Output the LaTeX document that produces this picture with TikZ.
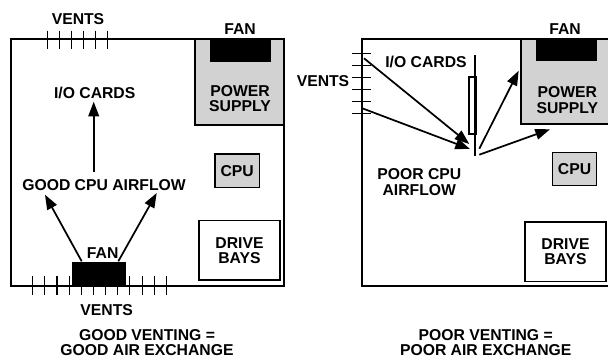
\documentclass[tikz,border=0pt]{standalone}
\usepackage{fontspec}
\usepackage{tikz}
\usetikzlibrary{arrows.meta,positioning,fit,calc}
\setmainfont{Liberation Sans}
\definecolor{PCGray}{HTML}{D2D2D2}
\tikzset{
 lbl/.style={font=\fontsize{11.8}{11.4}\selectfont\bfseries,align=center,inner sep=0pt},
 chassis/.style={draw,line width=1.5pt,fill=none},
 unit/.style={draw,line width=1.3pt,inner sep=0pt,anchor=north west},
 flow/.style={-{Triangle[length=11pt,width=8pt]},line width=1.3pt},
 vent/.style={line width=.8pt},
}
\begin{document}
\begin{tikzpicture}[x=.75pt,y=-.75pt]
\useasboundingbox (0,0) rectangle (608,358);
% good venting
\coordinate (lcTL) at (11,38.7);
\coordinate (lcBR) at (284,285.7);
\fill[PCGray] (195,38.7) rectangle (284,124.7);
\foreach \i in {0,...,5} {
 \draw[vent] ({47.3+12*\i},30.7) -- ({47.3+12*\i},49.3);
}
\foreach \i in {0,...,11} {
 \draw[vent] ({32.7+12.15*\i},276.3) -- ({32.7+12.15*\i},294.7);
}
\draw[chassis] (lcTL) rectangle (lcBR);
\draw[line width=1.3pt] (195,38.7) -- (195,124.7) -- (284,124.7);
\fill (210.3,38.7) rectangle (270.7,62.3);
\fill (72.3,262.3) rectangle (126.3,285.7);
\node[unit,fill=PCGray,minimum width=44.7*.75pt,minimum height=33.7*.75pt] (cpuL) at (214,153) {};
\node[unit,fill=white,minimum width=81.3*.75pt,minimum height=59.6*.75pt] (drvL) at (198,219.7) {};
\node[lbl] (ventsLT) at (78,18.7) {VENTS};
\node[lbl] (fanLT) at (240,28.7) {FAN};
\node[lbl] (psuL) at (240,98.7) {POWER\\SUPPLY};
\node[lbl] at (cpuL.center) {CPU};
\node[lbl] at (drvL.center) {DRIVE\\BAYS};
\node[lbl] (ioL) at (94.7,92.7) {I/O CARDS};
\node[lbl] (goodL) at (104,185.3) {GOOD CPU AIRFLOW};
\node[lbl] (fanLB) at (102.7,252.7) {FAN};
\node[lbl] (ventsLB) at (106.7,309.7) {VENTS};
\node[lbl] (capL) at (147,342.8) {GOOD VENTING =\\GOOD AIR EXCHANGE};
\coordinate (a0) at (93.7,172);
\coordinate (a1) at (93.7,101.7);
\coordinate (b0) at (81.7,261.3);
\coordinate (b1) at (45,194.7);
\coordinate (c0) at (118.3,261.3);
\coordinate (c1) at (156.7,193);
\draw[flow] (a0) -- (a1);
\draw[flow] (b0) -- (b1);
\draw[flow] (c0) -- (c1);
% poor venting
\coordinate (rcTR) at (608,38.7);
\coordinate (rcTL) at (361.7,38.7);
\coordinate (rcBL) at (361.7,285.5);
\coordinate (rcBR) at (608,285.5);
\fill[PCGray] (521,38.7) rectangle (608,124.3);
\foreach \y in {53.3,65.4,77.6,89.7,101.8,113.8} {
 \draw[vent] (352.3,\y) -- (370.7,\y);
}
\draw[chassis] (rcTR) -- (rcTL) -- (rcBL) -- (rcBR);
\draw[line width=1.3pt] (521,38.7) -- (521,124.3) -- (608,124.3);
\fill (536.3,38.7) rectangle (596.7,61);
\node[unit,fill=PCGray,minimum width=44*.75pt,minimum height=33*.75pt] (cpuR) at (551.7,151.7) {};
\node[unit,fill=white,minimum width=81.3*.75pt,minimum height=59.7*.75pt] (drvR) at (524,221) {};
\node[unit,fill=white,minimum width=6.7*.75pt,minimum height=57*.75pt] (card) at (468.3,76) {};
\draw[line width=1.5pt] (475,55) -- (475,155.7);
\node[lbl] (ventsR) at (323,81.3) {VENTS};
\node[lbl] (fanR) at (565,28.7) {FAN};
\node[lbl] (psuR) at (567.3,100) {POWER\\SUPPLY};
\node[lbl] at (cpuR.center) {CPU};
\node[lbl] at (drvR.center) {DRIVE\\BAYS};
\node[lbl] (ioR) at (426,62.3) {I/O CARDS};
\node[lbl] (poorR) at (419.3,182) {POOR CPU\\AIRFLOW};
\node[lbl] (capR) at (485.7,342.8) {POOR VENTING =\\POOR AIR EXCHANGE};
\coordinate (d0) at (364,58.3);
\coordinate (d1) at (469.3,144);
\coordinate (e0) at (362.3,108.3);
\coordinate (e1) at (470,149);
\coordinate (f0) at (479.3,148.7);
\coordinate (f1) at (518.7,70.7);
\coordinate (g0) at (479.3,154.7);
\coordinate (g1) at (550,129.3);
\draw[flow] (d0) -- (d1);
\draw[flow] (e0) -- (e1);
\draw[flow] (f0) -- (f1);
\draw[flow] (g0) -- (g1);
\end{tikzpicture}
\end{document}
